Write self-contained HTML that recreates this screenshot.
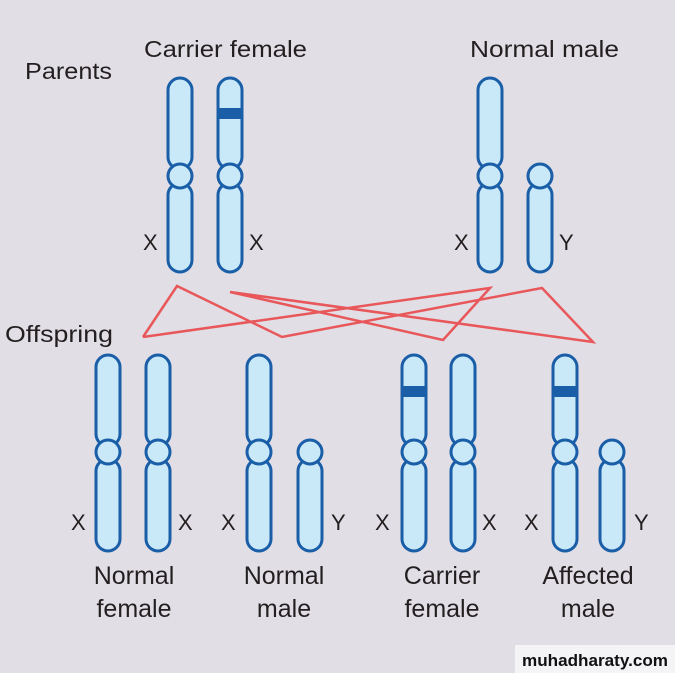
<!DOCTYPE html>
<html><head><meta charset="utf-8"><style>
html,body{margin:0;padding:0;background:#e1dee5}
svg{display:block}
text{font-family:"Liberation Sans",sans-serif;fill:#231f20}
</style></head><body>
<svg width="675" height="673" viewBox="0 0 675 673" xmlns="http://www.w3.org/2000/svg">
<rect width="675" height="673" fill="#e1dee5"/>
<g font-size="23">
<text x="144" y="57" textLength="163" lengthAdjust="spacingAndGlyphs">Carrier female</text>
<text x="470" y="57" textLength="149" lengthAdjust="spacingAndGlyphs">Normal male</text>
<text x="25" y="79" textLength="87" lengthAdjust="spacingAndGlyphs">Parents</text>
<text x="5" y="342" textLength="108" lengthAdjust="spacingAndGlyphs">Offspring</text>
</g>
<g font-size="22">
<text x="143" y="250">X</text><text x="249" y="250">X</text>
<text x="454" y="250">X</text><text x="559" y="250">Y</text>
<text x="71" y="530">X</text><text x="178" y="530">X</text>
<text x="221" y="530">X</text><text x="331" y="530">Y</text>
<text x="375" y="530">X</text><text x="482" y="530">X</text>
<text x="524" y="530">X</text><text x="634" y="530">Y</text>
</g>
<g font-size="25" text-anchor="middle">
<text x="134" y="584">Normal</text><text x="134" y="617">female</text>
<text x="284" y="584">Normal</text><text x="284" y="617">male</text>
<text x="442" y="584">Carrier</text><text x="442" y="617">female</text>
<text x="588" y="584">Affected</text><text x="588" y="617">male</text>
</g>
<polyline points="143,337 177,286 282,337 542,288 593,342 230,292 443,340 490,288 143,337" fill="none" stroke="#e8575a" stroke-width="2.5" stroke-linejoin="miter"/>
<g fill="#c9e8f8" stroke="#1a5ea8" stroke-width="3">
<rect x="168" y="78" width="24" height="91" rx="12"/><rect x="168" y="183" width="24" height="89" rx="12"/><circle cx="180" cy="176" r="12"/>
<rect x="218" y="78" width="24" height="91" rx="12"/><rect x="218" y="183" width="24" height="89" rx="12"/><circle cx="230" cy="176" r="12"/>
<rect x="478" y="78" width="24" height="91" rx="12"/><rect x="478" y="183" width="24" height="89" rx="12"/><circle cx="490" cy="176" r="12"/>
<rect x="528" y="183" width="24" height="89" rx="12"/><circle cx="540" cy="176" r="12"/>
<rect x="96" y="355" width="24" height="91" rx="12"/><rect x="96" y="459" width="24" height="92" rx="12"/><circle cx="108" cy="452" r="12"/>
<rect x="146" y="355" width="24" height="91" rx="12"/><rect x="146" y="459" width="24" height="92" rx="12"/><circle cx="158" cy="452" r="12"/>
<rect x="247" y="355" width="24" height="91" rx="12"/><rect x="247" y="459" width="24" height="92" rx="12"/><circle cx="259" cy="452" r="12"/>
<rect x="298" y="459" width="24" height="92" rx="12"/><circle cx="310" cy="452" r="12"/>
<rect x="402" y="355" width="24" height="91" rx="12"/><rect x="402" y="459" width="24" height="92" rx="12"/><circle cx="414" cy="452" r="12"/>
<rect x="451" y="355" width="24" height="91" rx="12"/><rect x="451" y="459" width="24" height="92" rx="12"/><circle cx="463" cy="452" r="12"/>
<rect x="553" y="355" width="24" height="91" rx="12"/><rect x="553" y="459" width="24" height="92" rx="12"/><circle cx="565" cy="452" r="12"/>
<rect x="600" y="459" width="24" height="92" rx="12"/><circle cx="612" cy="452" r="12"/>
</g>
<g fill="#1a5ea8">
<rect x="219" y="108" width="22" height="11"/>
<rect x="403" y="386" width="22" height="11"/>
<rect x="554" y="386" width="22" height="11"/>
</g>
<rect x="515" y="645" width="160" height="28" fill="#f4f3f6"/>
<text x="595" y="666" text-anchor="middle" font-size="17" font-weight="bold" style="fill:#111" textLength="146" lengthAdjust="spacingAndGlyphs">muhadharaty.com</text>
</svg>
</body></html>
